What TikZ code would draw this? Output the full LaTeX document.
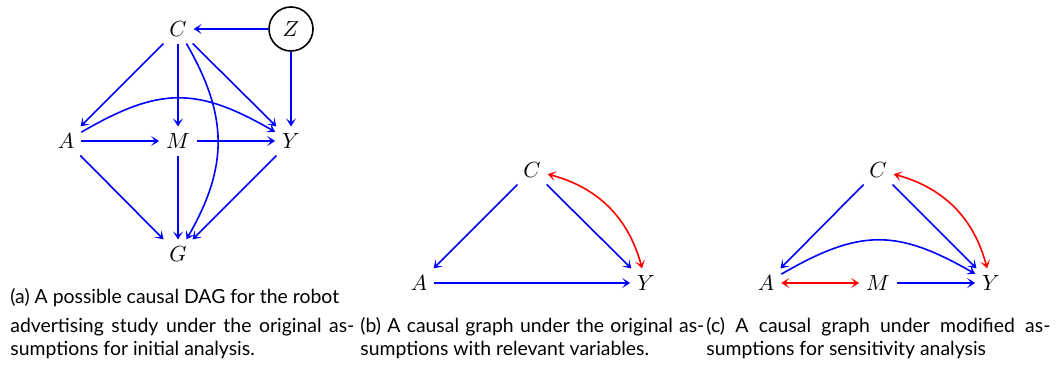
\documentclass[tikz,border=0pt]{standalone}
\usepackage{fontspec}
\setsansfont{Lato}
\usetikzlibrary{arrows.meta}

\begin{document}
\begin{tikzpicture}[x=0.5pt,y=-0.5pt]
    \tikzstyle{var}=[font=\fontsize{10.5}{12}\selectfont]
    \tikzstyle{latent}=[var,draw,circle,thick,minimum size=22pt,inner sep=0pt]
    \tikzstyle{edge}=[blue,thick,-{Stealth[length=4pt,width=5pt,inset=2pt]}]
    \tikzstyle{conf}=[red,thick,{Stealth[length=4pt,width=5pt,inset=2pt]}-{Stealth[length=4pt,width=5pt,inset=2pt]}]
    \tikzstyle{captext}=[anchor=base west,inner sep=0pt,font=\sffamily\fontsize{9.7}{11.5}\selectfont]
    \tikzstyle{capbox}=[captext,text width=172pt,align=justify]
    \useasboundingbox (0,0) rectangle (1064,367);
    % (a) Nodes
    \node[var] (Ca) at (178,29) {$C$};
    \node[latent] (Za) at (291,29) {$Z$};
    \node[var] (Aa) at (66,141) {$A$};
    \node[var] (Ma) at (178,141) {$M$};
    \node[var] (Ya) at (291,141) {$Y$};
    \node[var] (Ga) at (178,254) {$G$};
    % (a) Edges
    \draw[edge] (Za) -- (Ca);
    \draw[edge] (Za) -- (Ya);
    \draw[edge] (Ca) -- (Aa);
    \draw[edge] (Ca) -- (Ma);
    \draw[edge] (Ca) -- (Ya);
    \draw[edge] (Ca) to[bend left=30,looseness=1.1] (Ga);
    \draw[edge] (Aa) -- (Ma);
    \draw[edge] (Ma) -- (Ya);
    \draw[edge] (Aa) to[bend left=30,looseness=1.2] (Ya);
    \draw[edge] (Aa) -- (Ga);
    \draw[edge] (Ma) -- (Ga);
    \draw[edge] (Ya) -- (Ga);
    % (b) Nodes
    \node[var] (Cb) at (532,170) {$C$};
    \node[var] (Ab) at (419,283) {$A$};
    \node[var] (Yb) at (646,283) {$Y$};
    % (b) Edges
    \draw[edge] (Cb) -- (Ab);
    \draw[edge] (Cb) -- (Yb);
    \draw[edge] (Ab) -- (Yb);
    \draw[conf] (Cb) to[bend left=30] (Yb);
    % (c) Nodes
    \node[var] (Cc) at (878,170) {$C$};
    \node[var] (Ac) at (766,283) {$A$};
    \node[var] (Mc) at (878,283) {$M$};
    \node[var] (Yc) at (991,283) {$Y$};
    % (c) Edges
    \draw[edge] (Cc) -- (Ac);
    \draw[edge] (Cc) -- (Yc);
    \draw[edge] (Mc) -- (Yc);
    \draw[edge] (Ac) to[bend left=30,looseness=1.2] (Yc);
    \draw[conf] (Ac) -- (Mc);
    \draw[conf] (Cc) to[bend left=30] (Yc);
    % Captions
    \node[captext] (capa1) at (10,304) {(a) A possible causal DAG for the robot};
    \node[capbox] (capa2) at (10,333) {advertising study under the original as-\linebreak sumptions for initial analysis.};
    \node[capbox] (capb) at (360,333) {(b) A causal graph under the original as-\linebreak sumptions with relevant variables.};
    \node[capbox] (capc) at (706,333) {(c) A causal graph under modified as-\linebreak sumptions for sensitivity analysis};
\end{tikzpicture}
\end{document}
